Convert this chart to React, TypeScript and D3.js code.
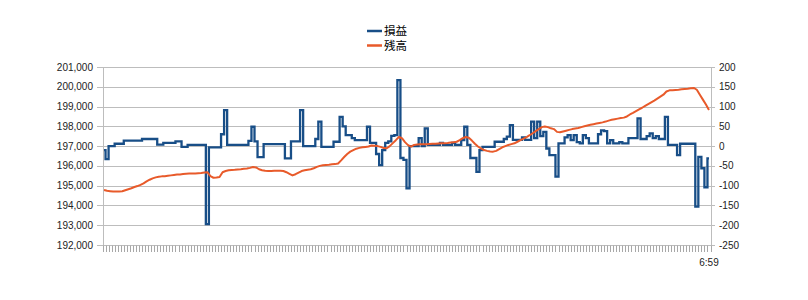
import React from "react";
import * as d3 from "d3";

// 損益 (right axis)
const profitValues: number[] = [
  -10, -33, 0, 0, 6, 6, 6, 14, 14, 14,
  14, 14, 14, 18, 18, 18, 18, 18, 4, 4,
  8, 8, 8, 8, 12, 12, -2, -2, 3, 3,
  3, 3, 3, 3, -197, -3, -3, -3, -3, 30,
  91, 3, 3, 3, 3, 3, 3, 3, 13, 49,
  12, -28, -28, 5, 5, 5, 5, 5, 5, 5,
  -31, -31, 12, 12, 12, 91, 0, 0, 0, 0,
  18, 62, -2, -2, -2, -2, 11, 11, 74, 50,
  28, 28, 20, 15, 15, 15, 15, 49, 8, 8,
  -20, -48, -10, 8, 12, 26, 28, 167, -30, -35,
  -107, 0, 0, 0, 20, 0, 45, 3, 3, 3,
  3, 8, 3, 3, 3, 8, 3, 3, 15, 49,
  3, -30, -30, -65, -10, -2, -2, -2, -2, 11,
  11, 11, 18, 24, 53, 16, 16, 16, 22, 16,
  16, 62, 20, 62, 25, 36, -6, -23, -23, -77,
  7, 7, 22, 28, 15, 28, 10, 7, 28, 20,
  7, 7, 7, 30, 40, 38, 7, 15, 7, 7,
  10, 7, 7, 20, 20, 20, 70, 18, 18, 25,
  32, 20, 25, 18, 18, 74, 3, 3, 3, -23,
  6, 6, 6, 6, 6, -153, -27, -56, -104, -31,
];

// 残高 (left axis)
const balanceValues: number[] = [
  194780, 194740, 194720, 194700, 194700, 194710, 194720, 194770, 194820, 194870,
  194930, 194980, 195040, 195120, 195220, 195300, 195370, 195420, 195450, 195470,
  195480, 195500, 195520, 195540, 195560, 195570, 195590, 195600, 195610, 195620,
  195620, 195630, 195640, 195660, 195680, 195480, 195400, 195410, 195440, 195680,
  195740, 195780, 195790, 195800, 195820, 195830, 195850, 195870, 195900, 195940,
  195920, 195830, 195780, 195750, 195740, 195740, 195750, 195760, 195760, 195740,
  195680, 195600, 195520, 195580, 195660, 195740, 195780, 195810, 195830, 195880,
  195950, 196000, 196030, 196050, 196060, 196080, 196090, 196120, 196280, 196450,
  196600, 196720, 196800, 196870, 196910, 196940, 196960, 196980, 197030, 197020,
  197000, 196960, 196900, 196890, 197000, 197150, 197300, 197460, 197400, 197200,
  197050, 196970, 197060, 197080, 197090, 197100, 197100, 197110, 197120, 197120,
  197130, 197140, 197150, 197160, 197180, 197200, 197220, 197300, 197400, 197460,
  197420, 197280, 197120, 196980, 196880, 196800, 196760, 196730, 196720, 196760,
  196850, 196940, 197000, 197060, 197100, 197140, 197220, 197300, 197380, 197460,
  197550, 197650, 197760, 197860, 197960, 197990, 197960, 197900, 197860, 197720,
  197700, 197740, 197780, 197820, 197860, 197890, 197920, 197960, 198000, 198040,
  198080, 198110, 198140, 198170, 198200, 198240, 198290, 198330, 198360, 198390,
  198420, 198440, 198500, 198600, 198680, 198770, 198860, 198940, 199030, 199120,
  199210, 199300, 199400, 199500, 199600, 199760, 199820, 199830, 199840, 199850,
  199870, 199890, 199900, 199920, 199940, 199850, 199600, 199350, 199100, 198830,
];

const seriesNames: string[] = ["損益", "残高"];
const leftTicks: number[] = [192000, 193000, 194000, 195000, 196000, 197000, 198000, 199000, 200000, 201000];
const rightTicks: number[] = [-250, -200, -150, -100, -50, 0, 50, 100, 150, 200];
const lastCategoryLabel = "6:59";

const W = 808;
const H = 300;
const X0 = 102.5;
const X1 = 710.5;
const YTOP = 67;
const YBOT = 245;
const BLUE = "#184e87";
const ORANGE = "#e85a2a";
const GRID = "#bdbdbd";
const FONT = "'Liberation Sans', Arial, sans-serif";
const CJK = "'Noto Sans CJK JP', sans-serif";

export default function App() {
  const N = profitValues.length;
  const x = d3.scaleBand<number>().domain(d3.range(N)).range([X0, X1]).padding(0);
  const bw = x.bandwidth();
  const cx = (i: number) => (x(i) as number) + bw / 2;
  const yL = d3.scaleLinear().domain([192000, 201000]).range([YBOT, YTOP]);
  const yR = d3.scaleLinear().domain([-250, 200]).range([YBOT, YTOP]);

  const blueLine = d3
    .line<number>()
    .x((_, i) => cx(i))
    .y((d) => yR(d))
    .curve(d3.curveStep)(profitValues) as string;
  const orangeLine = d3
    .line<number>()
    .x((_, i) => cx(i))
    .y((d) => yL(d))(balanceValues) as string;

  const fmt = d3.format(",");
  const crisp = (v: number) => Math.round(v) + 0.5;

  return (
    <svg
      width={W}
      height={H}
      style={{ position: "absolute", left: 0, top: 0, background: "#fff" }}
    >
      <rect x={0} y={0} width={W} height={H} fill="#fff" />
      {leftTicks.map((t) => (
        <line key={"g" + t} x1={97} x2={715} y1={crisp(yL(t))} y2={crisp(yL(t))} stroke={GRID} strokeWidth={1} />
      ))}
      <line x1={crisp(X0)} x2={crisp(X0)} y1={crisp(YTOP)} y2={crisp(YBOT)} stroke={GRID} />
      <line x1={crisp(X1)} x2={crisp(X1)} y1={crisp(YTOP)} y2={crisp(YBOT)} stroke={GRID} />
      {d3.range(N + 1).map((i) => (
        <line
          key={"t" + i}
          x1={crisp(X0 + i * bw)}
          x2={crisp(X0 + i * bw)}
          y1={crisp(YBOT)}
          y2={252}
          stroke="#a8a8a8"
          strokeWidth={1}
        />
      ))}
      {leftTicks.map((t) => (
        <text key={"l" + t} x={93} y={yL(t)} dy="0.35em" textAnchor="end" fontFamily={FONT} fontSize={10} fill="#222">
          {fmt(t)}
        </text>
      ))}
      {rightTicks.map((t) => (
        <text key={"r" + t} x={719} y={yR(t)} dy="0.35em" textAnchor="start" fontFamily={FONT} fontSize={10} fill="#222">
          {t}
        </text>
      ))}
      <text x={cx(N - 1)} y={266} textAnchor="middle" fontFamily={FONT} fontSize={10} fill="#222">
        {lastCategoryLabel}
      </text>
      <path d={blueLine} fill="none" stroke={BLUE} strokeWidth={2.3} strokeLinejoin="miter" />
      <path d={orangeLine} fill="none" stroke={ORANGE} strokeWidth={2} strokeLinejoin="round" />
      <line x1={367} x2={382} y1={31} y2={31} stroke={BLUE} strokeWidth={2.5} />
      <text x={384} y={34.5} fontFamily={CJK} fontSize={11.5} fill="#000">
        {seriesNames[0]}
      </text>
      <line x1={367} x2={382} y1={45.5} y2={45.5} stroke={ORANGE} strokeWidth={2.5} />
      <text x={384} y={49.5} fontFamily={CJK} fontSize={11.5} fill="#000">
        {seriesNames[1]}
      </text>
    </svg>
  );
}
